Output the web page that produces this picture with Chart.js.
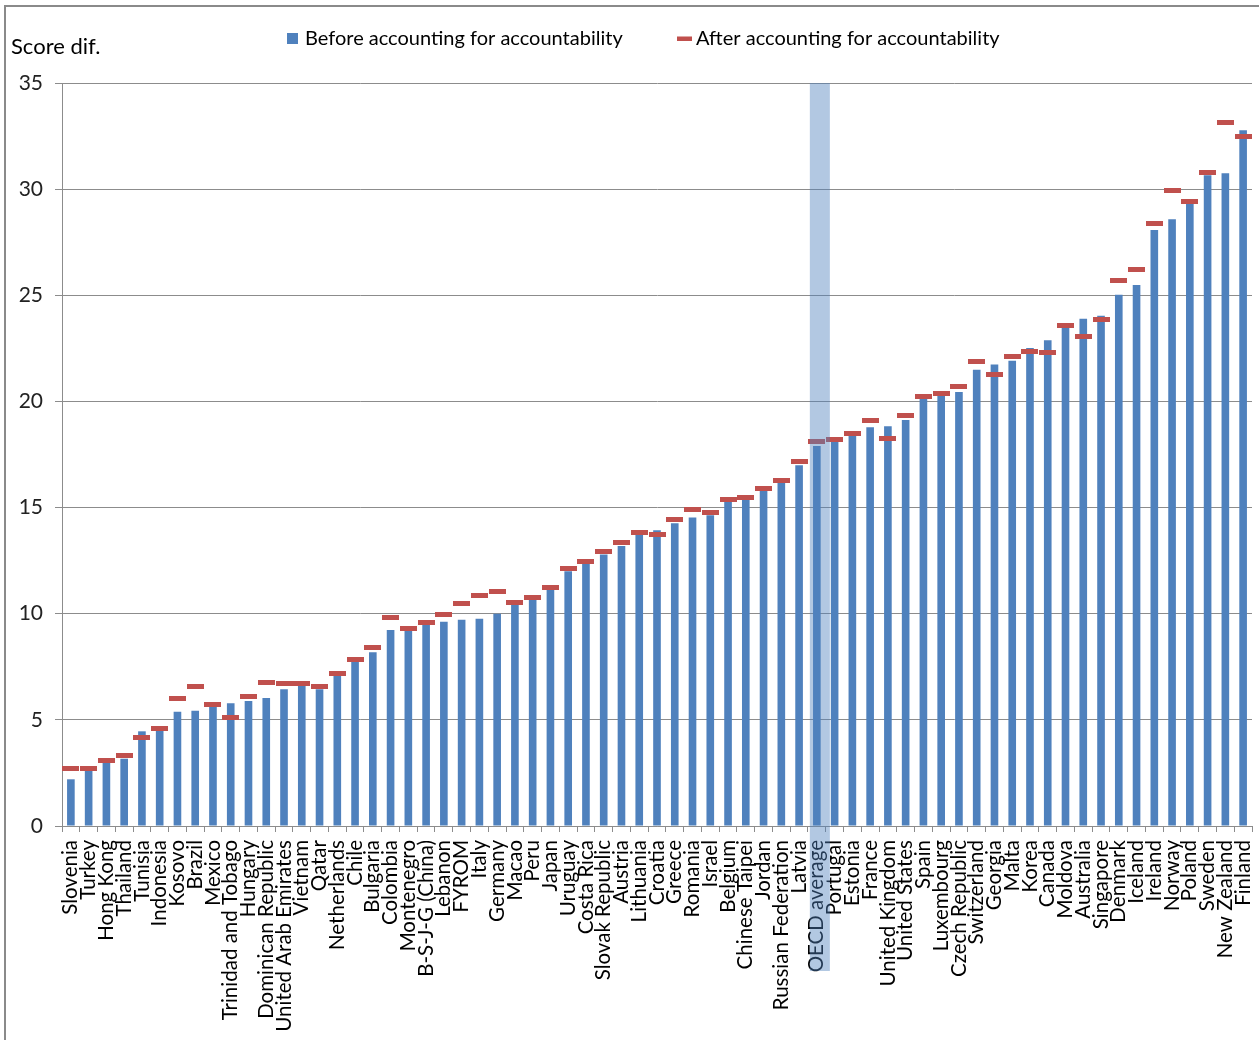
<!DOCTYPE html>
<html>
<head>
<meta charset="utf-8">
<title>Score difference before and after accounting for accountability</title>
<script src="https://cdn.jsdelivr.net/npm/chart.js@4.4.1/dist/chart.umd.min.js"></script>
<style>
    html, body { margin: 0; padding: 0; background: #fff; overflow: hidden; }
    .chart-wrap { position: relative; width: 1259px; height: 1040px; }
</style>
</head>
<body>
<div class="chart-wrap"><canvas id="scoreChart"></canvas></div>
<script>
const categories = [
    'Slovenia', 'Turkey', 'Hong Kong', 'Thailand', 'Tunisia', 'Indonesia', 'Kosovo', 'Brazil', 'Mexico',
    'Trinidad and Tobago', 'Hungary', 'Dominican Republic', 'United Arab Emirates', 'Vietnam', 'Qatar',
    'Netherlands', 'Chile', 'Bulgaria', 'Colombia', 'Montenegro', 'B-S-J-G (China)', 'Lebanon', 'FYROM',
    'Italy', 'Germany', 'Macao', 'Peru', 'Japan', 'Uruguay', 'Costa Rica', 'Slovak Republic', 'Austria',
    'Lithuania', 'Croatia', 'Greece', 'Romania', 'Israel', 'Belgium', 'Chinese Taipei', 'Jordan',
    'Russian Federation', 'Latvia', 'OECD average', 'Portugal', 'Estonia', 'France', 'United Kingdom',
    'United States', 'Spain', 'Luxembourg', 'Czech Republic', 'Switzerland', 'Georgia', 'Malta', 'Korea',
    'Canada', 'Moldova', 'Australia', 'Singapore', 'Denmark', 'Iceland', 'Ireland', 'Norway', 'Poland',
    'Sweden', 'New Zealand', 'Finland'
];

const beforeValues = [
    2.2, 2.64, 3.0, 3.17, 4.46, 4.49, 5.38, 5.43, 5.62, 5.78,
    5.89, 6.03, 6.44, 6.62, 6.44, 7.11, 7.74, 8.19, 9.23, 9.2,
    9.48, 9.62, 9.72, 9.76, 10.0, 10.43, 10.68, 11.12, 12.0, 12.35,
    12.79, 13.19, 13.71, 13.93, 14.26, 14.53, 14.64, 15.3, 15.39, 15.79,
    16.17, 16.99, 17.9, 18.11, 18.37, 18.78, 18.83, 19.12, 20.13, 20.28,
    20.45, 21.49, 21.74, 21.92, 22.52, 22.88, 23.51, 23.9, 24.04, 25.02,
    25.48, 28.08, 28.58, 29.31, 30.66, 30.75, 32.77
];

const afterValues = [
    2.7, 2.7, 3.1, 3.3, 4.19, 4.58, 6.01, 6.56, 5.73, 5.12,
    6.12, 6.75, 6.7, 6.7, 6.56, 7.19, 7.85, 8.43, 9.81, 9.3,
    9.59, 9.98, 10.49, 10.88, 11.03, 10.54, 10.77, 11.23, 12.11, 12.46,
    12.92, 13.36, 13.82, 13.75, 14.45, 14.91, 14.75, 15.39, 15.49, 15.9,
    16.29, 17.18, 18.12, 18.22, 18.47, 19.11, 18.26, 19.34, 20.23, 20.39,
    20.69, 21.86, 21.27, 22.1, 22.36, 22.3, 23.58, 23.04, 23.88, 25.7,
    26.2, 28.36, 29.95, 29.4, 30.79, 33.16, 32.48
];

const yTicks = [0, 5, 10, 15, 20, 25, 30, 35];
const seriesNames = ['Before accounting for accountability', 'After accounting for accountability'];
const axisTitle = 'Score dif.';
const highlightCategory = 'OECD average';

const blue = '#4f81bd';
const red = '#c0504d';
const gridGray = '#8c8c8c';
const fontFamily = 'Lato, "Open Sans", sans-serif';

Chart.defaults.font.family = fontFamily;

// small red dash used as the point marker (an image style keeps Chart.js from padding the plot for big radii)
const dash = document.createElement('canvas');
dash.width = 17;
dash.height = 5;
const dashCtx = dash.getContext('2d');
dashCtx.fillStyle = red;
dashCtx.fillRect(0, 0, 17, 5);

// frame, axis title, legend and the OECD highlight band
const decorations = {
    id: 'decorations',
    beforeDraw(chart) {
        const { ctx } = chart;
        ctx.save();
        ctx.strokeStyle = '#8a8a8a';
        ctx.lineWidth = 2;
        ctx.beginPath();
        ctx.moveTo(5, chart.height);
        ctx.lineTo(5, 6);
        ctx.lineTo(chart.width, 6);
        ctx.stroke();

        ctx.fillStyle = '#000';
        ctx.textBaseline = 'middle';
        ctx.font = `22px ${fontFamily}`;
        ctx.fillText(axisTitle, 11, 47);

        ctx.font = `20px ${fontFamily}`;
        ctx.fillStyle = blue;
        ctx.fillRect(287, 33, 11, 11);
        ctx.fillStyle = '#000';
        ctx.fillText(seriesNames[0], 305, 39);

        ctx.fillStyle = red;
        ctx.fillRect(677, 36.5, 15, 4.5);
        ctx.fillStyle = '#000';
        ctx.fillText(seriesNames[1], 696, 39);
        ctx.restore();
    },
    afterDraw(chart) {
        const idx = categories.indexOf(highlightCategory);
        if (idx < 0) {
            return;
        }
        const { ctx, chartArea } = chart;
        const x = chart.scales.x.getPixelForValue(idx);
        ctx.save();
        ctx.fillStyle = 'rgba(79, 129, 189, 0.44)';
        ctx.fillRect(x - 7, chartArea.top, 20, 971 - chartArea.top);
        ctx.restore();
    }
};

new Chart(document.getElementById('scoreChart'), {
    type: 'bar',
    data: {
        labels: categories,
        datasets: [
            {
                label: seriesNames[0],
                data: beforeValues,
                backgroundColor: blue,
                borderWidth: 0,
                categoryPercentage: 1,
                barPercentage: 0.43,
                order: 1,
            },
            {
                type: 'line',
                label: seriesNames[1],
                data: afterValues,
                showLine: false,
                pointStyle: dash,
                pointRadius: 0.5,
                pointHoverRadius: 0.5,
                pointBorderWidth: 0,
                pointHoverBorderWidth: 0,
                borderColor: red,
                backgroundColor: red,
                order: 0,
            },
        ],
    },
    options: {
        responsive: true,
        maintainAspectRatio: false,
        animation: false,
        layout: {
            padding: { top: 83, right: 7, left: 0, bottom: 0 },
        },
        plugins: {
            legend: { display: false },
            tooltip: { enabled: true },
        },
        scales: {
            x: {
                offset: true,
                grid: {
                    display: true,
                    offset: true,
                    drawOnChartArea: false,
                    drawTicks: true,
                    tickLength: 6,
                    color: gridGray,
                },
                border: { display: true, color: gridGray },
                ticks: {
                    autoSkip: false,
                    maxRotation: 90,
                    minRotation: 90,
                    padding: 8,
                    color: '#000',
                    font: { size: 20.5 },
                },
                afterFit(scale) {
                    scale.height = 214;
                    scale.paddingLeft = 0;
                    scale.paddingRight = 0;
                },
            },
            y: {
                min: 0,
                max: 35,
                grid: {
                    color: gridGray,
                    tickLength: 7,
                },
                border: { display: true, color: gridGray },
                ticks: {
                    padding: 12,
                    color: '#222',
                    font: { size: 21 },
                },
                afterBuildTicks(scale) {
                    scale.ticks = yTicks.map((value) => ({ value }));
                },
                afterFit(scale) {
                    scale.width = 62;
                    scale.paddingTop = 0;
                    scale.paddingBottom = 0;
                },
            },
        },
    },
    plugins: [decorations],
});
</script>
</body>
</html>
